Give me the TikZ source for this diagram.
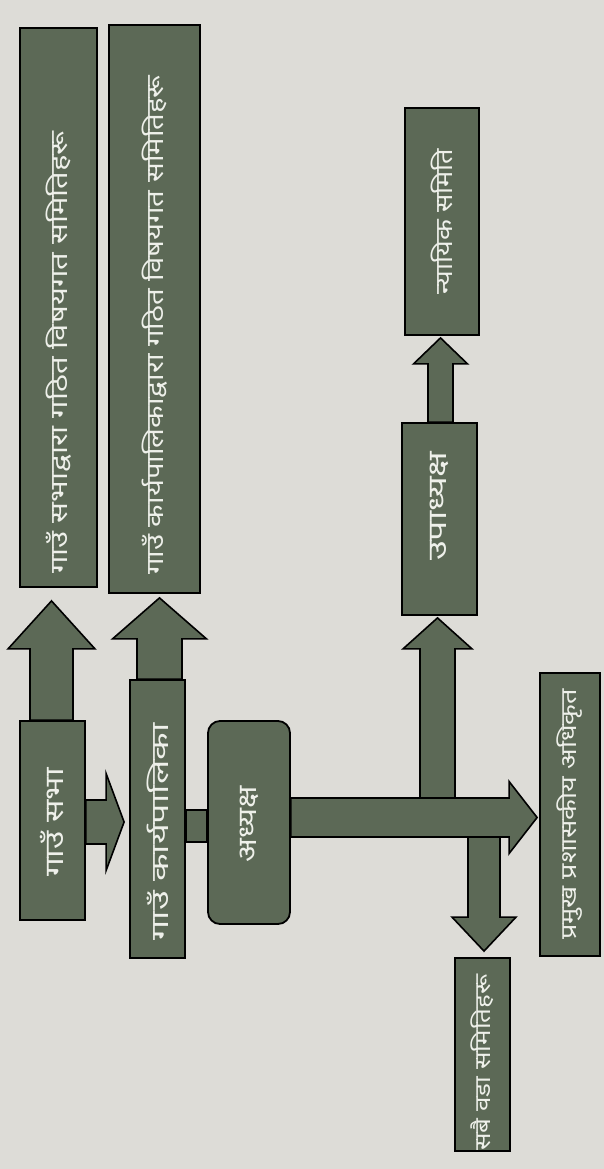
\documentclass[tikz,border=0pt]{standalone}
\usepackage{fontspec}
\newfontfamily\dev[Script=Devanagari]{Noto Sans}
\usetikzlibrary{calc}
\definecolor{paper}{HTML}{DDDCD7}
\definecolor{boxfill}{HTML}{5C6956}
\definecolor{txt}{HTML}{EEF0EA}
\tikzset{
  box/.style={draw=black, line width=1.8pt, fill=boxfill, text=txt, inner sep=0pt},
  arrowbody/.style={draw=black, line width=1.6pt, fill=boxfill, line join=miter},
}
% #1 space before (moves text up), #2 space after (moves text down), #3 font size, #4 stretch, #5 text
\newcommand\vtext[5]{\rotatebox{90}{\hspace*{#1}\scalebox{#4}[1]{\dev\fontsize{#3}{#3}\selectfont #5}\hspace*{#2}}}
\newcommand\fatarr[5]{%
  \coordinate (fa-b) at ($(#2)!#5!(#1)$);
  \draw[arrowbody] ($(#1)!#3!90:(#2)$) -- ($(fa-b)!#3!-90:(#1)$) -- ($(fa-b)!#4!-90:(#1)$)
    -- (#2) -- ($(fa-b)!#4!90:(#1)$) -- ($(fa-b)!#3!90:(#1)$) -- ($(#1)!#3!-90:(#2)$) -- cycle;}
\begin{document}
\begin{tikzpicture}[x=1pt,y=-1pt]
\fill[paper] (0,0) rectangle (604,1169);
\useasboundingbox (0,0) rectangle (604,1169);
% boxes
\node[box, minimum width=77pt, minimum height=559pt] (A) at (58.5,307.5)
  {\vtext{0pt}{90pt}{24pt}{1.29}{गाउँ सभाद्वारा गठित विषयगत समितिहरू}};
\node[box, minimum width=91pt, minimum height=568pt] (B) at (154.5,309)
  {\vtext{0pt}{32pt}{24pt}{1.22}{गाउँ कार्यपालिकाद्वारा गठित विषयगत समितिहरू}};
\node[box, minimum width=65pt, minimum height=199pt] (sabha) at (52.5,820.5)
  {\vtext{0pt}{4pt}{26pt}{1.28}{गाउँ सभा}};
\node[box, minimum width=55pt, minimum height=278pt] (karya) at (157.5,819)
  {\vtext{0pt}{26pt}{24pt}{1.5}{गाउँ कार्यपालिका}};
\node[box, rounded corners=12pt, minimum width=82pt, minimum height=203pt] (adhy) at (249,822.5)
  {\vtext{0pt}{3pt}{26pt}{1.2}{अध्यक्ष}};
\node[box, minimum width=75pt, minimum height=192pt] (upa) at (439.5,519)
  {\vtext{26pt}{0pt}{26pt}{1.38}{उपाध्यक्ष}};
\node[box, minimum width=74pt, minimum height=227pt] (nyayik) at (442,221.5)
  {\vtext{0pt}{0pt}{24pt}{1.13}{न्यायिक समिति}};
\node[box, minimum width=60pt, minimum height=283pt] (pramukh) at (570,814.5)
  {\vtext{0pt}{0pt}{22pt}{1.23}{प्रमुख प्रशासकीय अधिकृत}};
\node[box, minimum width=55pt, minimum height=193pt] (wada) at (482.5,1054.5)
  {\vtext{0pt}{16pt}{22pt}{1.18}{सबै वडा समितिहरू}};
% connectors
\coordinate (s1) at ($(sabha.north)+(-1,0)$);
\coordinate (e1) at ($(A.south)+(-7,13)$);
\fatarr{s1}{e1}{21.5pt}{43.5pt}{48pt}
\coordinate (s2) at ($(karya.north)+(2,0)$);
\coordinate (e2) at ($(B.south)+(5,4)$);
\fatarr{s2}{e2}{22.5pt}{47pt}{41pt}
\coordinate (s3) at ($(sabha.east)+(0,1.5)$);
\coordinate (e3) at ($(karya.west)+(-5,3)$);
\fatarr{s3}{e3}{22pt}{48.5pt}{18pt}
\draw[arrowbody] ($(karya.east)+(0,-9)$) rectangle ($(adhy.west)+(0,19.5)$);
\coordinate (bigS) at ($(adhy.east)+(0,-5)$);
\coordinate (bigE) at ($(pramukh.west)+(-2,3)$);
\fatarr{bigS}{bigE}{19.5pt}{36pt}{28pt}
\coordinate (s5) at ($(upa.south |- bigS)+(-2,-19.5)$);
\coordinate (e5) at ($(upa.south)+(-2,2)$);
\fatarr{s5}{e5}{17.5pt}{34.5pt}{31pt}
\coordinate (s6) at ($(upa.north)+(1,0)$);
\coordinate (e6) at ($(nyayik.south)+(-1.5,2)$);
\fatarr{s6}{e6}{12.5pt}{27pt}{26pt}
\coordinate (s7) at ($(wada.north |- bigS)+(1.5,19.5)$);
\coordinate (e7) at ($(wada.north)+(1.5,-6)$);
\fatarr{s7}{e7}{16pt}{32pt}{34pt}
\end{tikzpicture}
\end{document}
